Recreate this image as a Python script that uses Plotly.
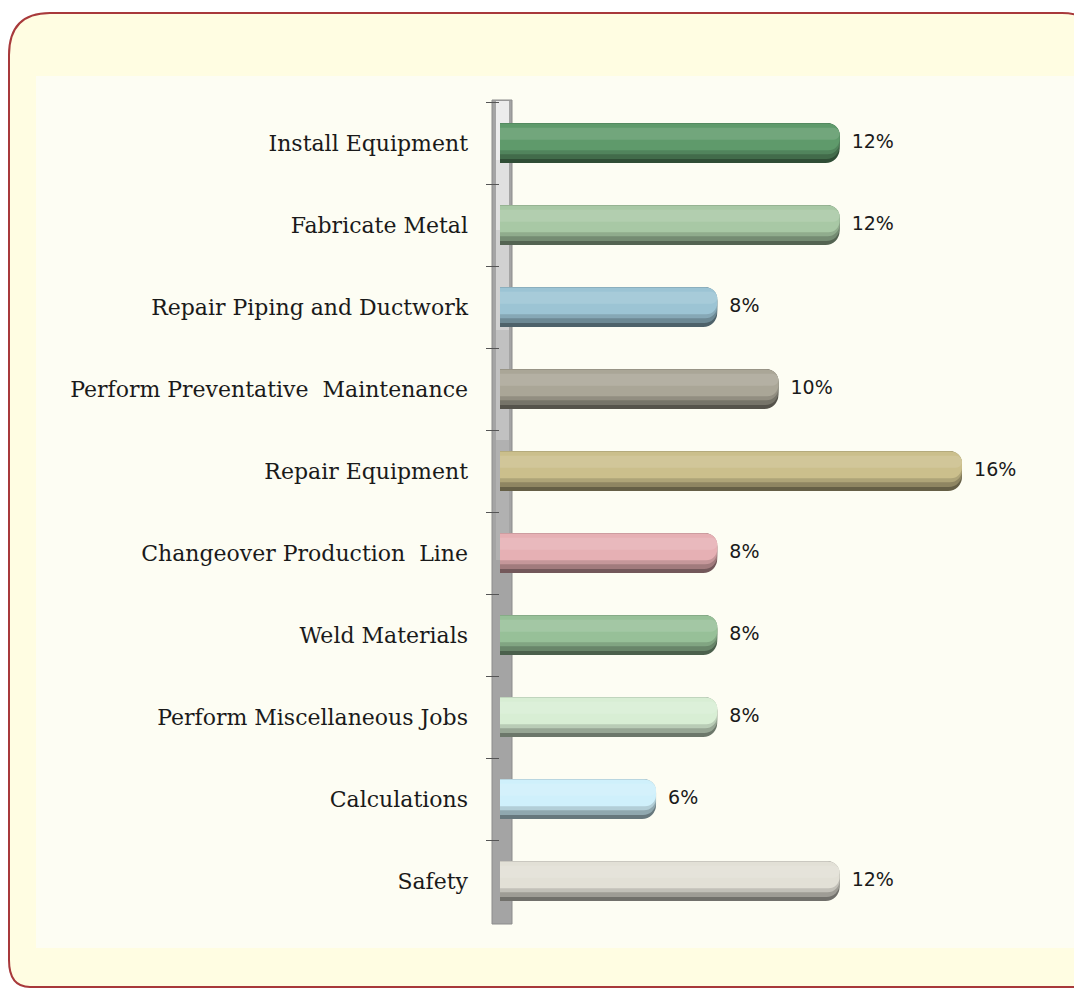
import plotly.graph_objects as go

categories = ["Install Equipment", "Fabricate Metal", "Repair Piping and Ductwork",
              "Perform Preventative  Maintenance", "Repair Equipment",
              "Changeover Production  Line", "Weld Materials",
              "Perform Miscellaneous Jobs", "Calculations", "Safety"]
values = [12, 12, 8, 10, 16, 8, 8, 8, 6, 12]
main_colors = ["#5f9a6b", "#a8c8a5", "#9cc4d4", "#aaa697", "#cbbf8c",
               "#e6b0b4", "#97c098", "#d8eed4", "#cff0fb", "#e2e0d6"]
labels = [f"{v}%" for v in values]

W, H = 1074, 988
def px(x): return x / W
def py(y): return 1 - y / H

def shade(hexc, f):
    h = hexc.lstrip("#")
    r, g, b = (int(h[i:i + 2], 16) for i in (0, 2, 4))
    if f < 1:
        r, g, b = (int(c * f) for c in (r, g, b))
    else:
        t = f - 1
        r, g, b = (int(c + (255 - c) * t) for c in (r, g, b))
    return f"rgb({r},{g},{b})"

fig = go.Figure()
BW = 0.49
# (top fraction, bottom fraction, shade factor, corner radius)
layers = [(0.0, 1.0, 0.5, 14), (0.0, 0.9, 0.7, 13), (0.0, 0.78, 0.86, 12),
          (0.02, 0.68, 1.0, 11), (0.12, 0.42, 1.12, 7)]
for top, bot, f, cr in layers:
    fig.add_trace(go.Bar(x=values, y=categories, orientation="h",
                         width=BW * (bot - top), offset=-BW / 2 + BW * top,
                         marker=dict(color=[shade(c, f) for c in main_colors],
                                     cornerradius=cr, line=dict(width=0)),
                         hoverinfo="skip"))
fig.add_trace(go.Scatter(x=values, y=categories, mode="text", text=["  " + t for t in labels],
                         textposition="middle right",
                         textfont=dict(family="DejaVu Sans", size=19, color="#1a1a1a"),
                         hoverinfo="skip"))

shapes = [
    # outer rounded frame
    dict(type="path", xref="paper", yref="paper", layer="below",
         path=(f"M {px(50)} {py(13)} L {px(1062)} {py(13)} Q {px(1095)} {py(13)} {px(1095)} {py(45)} "
               f"L {px(1095)} {py(987)} L {px(30)} {py(987)} Q {px(9)} {py(987)} {px(9)} {py(960)} "
               f"L {px(9)} {py(55)} Q {px(9)} {py(13)} {px(50)} {py(13)} Z"),
         fillcolor="#fffde2", line=dict(color="#a8393b", width=2)),
    # inner panel
    dict(type="rect", xref="paper", yref="paper", layer="below",
         x0=px(36), x1=px(1074), y0=py(948), y1=py(76),
         fillcolor="#fdfdf3", line=dict(width=0)),
    # axis wall
    dict(type="rect", xref="paper", yref="paper", layer="below",
         x0=px(492), x1=px(512), y0=py(924), y1=py(100),
         fillcolor="#a4a4a4", line=dict(color="#8c8c8c", width=1)),
]
# lighter gradient in the upper part of the wall
for i, (y0, op) in enumerate([(560, 0.25), (440, 0.35), (330, 0.45), (230, 0.55), (160, 0.65)]):
    shapes.append(dict(type="rect", xref="paper", yref="paper", layer="below",
                       x0=px(496), x1=px(509), y0=py(y0), y1=py(101),
                       fillcolor="#ffffff", opacity=op * 0.6, line=dict(width=0)))

fig.update_layout(
    width=W, height=H,
    margin=dict(l=0, r=0, t=0, b=0),
    paper_bgcolor="#ffffff", plot_bgcolor="rgba(0,0,0,0)",
    barmode="overlay", showlegend=False, shapes=shapes,
    xaxis=dict(domain=[px(500), px(1040)], range=[0.9, 18.55], visible=False,
               showgrid=False, zeroline=False, fixedrange=True),
    yaxis=dict(domain=[py(922), py(102)], autorange="reversed", type="category",
               showline=False, showgrid=False, zeroline=False,
               ticks="outside", ticklen=13, tickcolor="#555555", tickwidth=1,
               tickson="boundaries", ticklabelstandoff=31, automargin=False,
               tickfont=dict(family="DejaVu Serif", size=22, color="#1a1a1a")),
)

fig.write_html("out.html")
